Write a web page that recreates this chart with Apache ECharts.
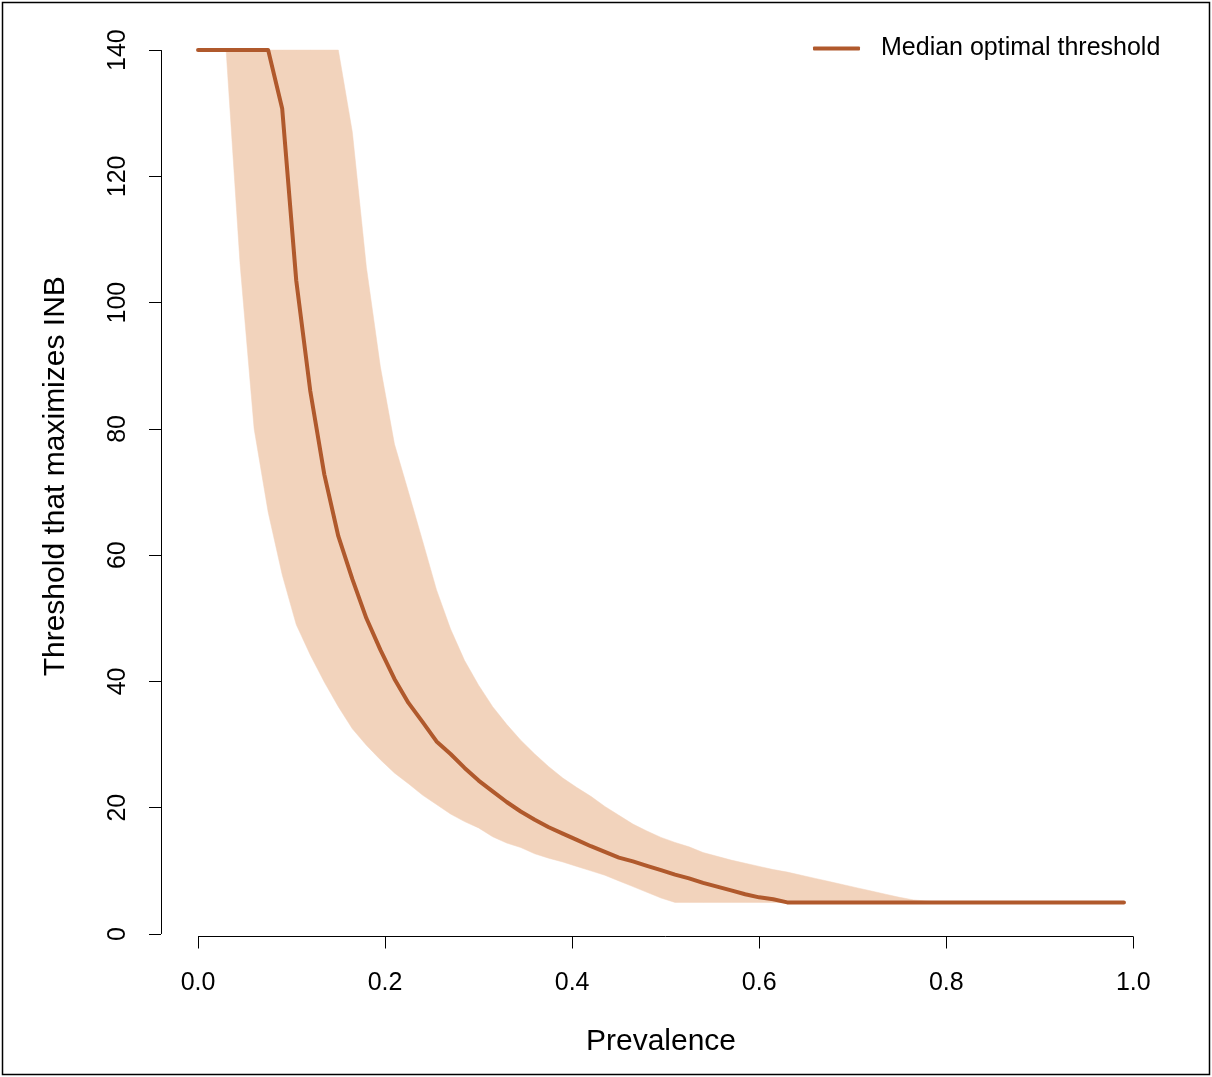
<!DOCTYPE html>
<html>
<head>
<meta charset="utf-8">
<script src="https://cdn.jsdelivr.net/npm/echarts@6/dist/echarts.min.js"></script>
<style>
html,body{margin:0;padding:0;background:#fff;}
#chart{width:1212px;height:1077px;}
</style>
</head>
<body>
<div id="chart"></div>
<script>
var prevalence = [0,0.015,0.03,0.045,0.06,0.075,0.09,0.105,0.12,0.135,0.15,0.165,0.18,0.195,0.21,0.225,0.24,0.255,0.27,0.285,0.3,0.315,0.33,0.345,0.36,0.375,0.39,0.405,0.42,0.435,0.45,0.465,0.48,0.495,0.51,0.525,0.54,0.555,0.57,0.585,0.6,0.615,0.63,0.645,0.66,0.675,0.69,0.705,0.72,0.735,0.75,0.765,0.78,0.795,0.81,0.825,0.84,0.855,0.87,0.885,0.9,0.915,0.93,0.945,0.96,0.975,0.99];

var medianThreshold = [140,140,140,140,140,140,
  130.7,103.5,86,72.8,63,56.2,50,45,40.4,36.6,33.6,
  30.5,28.5,26.3,24.3,22.6,20.9,19.4,18.1,16.9,15.9,
  14.9,13.9,13.0,12.1,11.5,10.8,10.1,9.4,8.8,8.1,
  7.5,6.9,6.3,5.8,5.5,
  5,5,5,5,5,5,5,5,5,5,5,5,5,5,5,5,5,5,5,5,5,5,5,5,5];

var lowerBound = [140,140,140,
  106,80,66.8,56.9,49,44.2,39.9,36,32.5,29.9,
  27.6,25.5,23.8,22.0,20.5,19,17.8,16.8,15.4,14.4,
  13.7,12.7,12.0,11.4,10.7,10.0,9.3,8.4,7.5,6.6,5.7,
  5,5,5,5,5,5,5,5,5,5,5,5,5,5,5,5,5,5,5,5,5,5,5,5,5,5,5,5,5,5,5,5,5];

var upperBound = [140,140,140,140,140,140,140,140,140,140,140,
  127,105.6,89.8,77.6,70,62.3,54.5,48.3,43.3,39.4,
  36.0,33.2,30.7,28.5,26.5,24.7,23.2,21.8,20.2,18.8,
  17.4,16.3,15.3,14.5,13.8,12.9,12.3,11.7,11.2,10.7,
  10.2,9.8,9.3,8.8,8.3,7.8,7.3,6.8,6.3,5.8,5.4,5.2,
  5,5,5,5,5,5,5,5,5,5,5,5,5,5];

var xTicks = [0,0.2,0.4,0.6,0.8,1.0];
var yTicks = [0,20,40,60,80,100,120,140];

var FONT = '"Liberation Sans", Arial, Helvetica, sans-serif';
var LINE_COLOR = '#B0592C';
var BAND_COLOR = '#F2D3BC';

var xMin = -0.0396, xMax = 1.0296;
var yMin = -0.4, yMax = 145.4;

var bandData = prevalence.map(function(x,i){return [x, lowerBound[i], upperBound[i]];});
var medianData = prevalence.map(function(x,i){return [x, medianThreshold[i]];});

function renderBand(params, api){
  if (params.dataIndex !== 0) return null;
  var top = [], bottom = [];
  for (var i = 0; i < bandData.length; i++) {
    top.push(api.coord([bandData[i][0], bandData[i][2]]));
    bottom.push(api.coord([bandData[i][0], bandData[i][1]]));
  }
  var pts = top.concat(bottom.reverse());
  return {
    type:'polygon',
    shape:{points:pts},
    style:{fill:BAND_COLOR, stroke:BAND_COLOR, lineWidth:0.5},
    silent:true
  };
}

var chart = echarts.init(document.getElementById('chart'), null, {renderer:'canvas'});
chart.setOption({
  animation:false,
  backgroundColor:'#fff',
  textStyle:{fontFamily:FONT},
  graphic:[{type:'rect', shape:{x:2.5,y:2.5,width:1207,height:1072}, style:{fill:'none', stroke:'#000', lineWidth:1.5}, silent:true, z:100}],
  legend:{
    left:813, top:36, padding:0, orient:'horizontal',
    icon:'roundRect', itemWidth:47, itemHeight:4,
    data:['Median optimal threshold'],
    textStyle:{fontFamily:FONT, fontSize:25, color:'#000', padding:[0,0,0,16]},
    selectedMode:false
  },
  grid:{left:161, top:16, width:1000, height:920.5, containLabel:false},
  xAxis:{
    type:'value', min:xMin, max:xMax,
    name:'Prevalence', nameLocation:'middle', nameGap:90,
    nameTextStyle:{fontFamily:FONT, fontSize:30, color:'#000'},
    axisLine:{show:false, onZero:false},
    axisTick:{show:true, length:12, customValues:xTicks, lineStyle:{color:'#000', width:1}},
    axisLabel:{show:true, customValues:xTicks, margin:34, fontSize:25, color:'#000', fontFamily:FONT,
      formatter:function(v){return v.toFixed(1);}},
    splitLine:{show:false}
  },
  yAxis:{
    type:'value', min:yMin, max:yMax,
    name:'Threshold that maximizes INB', nameLocation:'middle', nameGap:90, nameRotate:90,
    nameTextStyle:{fontFamily:FONT, fontSize:30, color:'#000'},
    axisLine:{show:false, onZero:false},
    axisTick:{show:true, length:12, customValues:yTicks, lineStyle:{color:'#000', width:1}},
    axisLabel:{show:true, customValues:yTicks, margin:30, rotate:90, fontSize:25, color:'#000', fontFamily:FONT,
      formatter:function(v){return String(v);}},
    splitLine:{show:false}
  },
  series:[
    {
      name:'band', type:'custom', data:bandData, renderItem:renderBand,
      encode:{x:0, y:[1,2]}, silent:true, z:1, clip:false,
      markLine:{
        silent:true, symbol:'none', label:{show:false},
        lineStyle:{color:'#000', width:1, type:'solid'},
        data:[
          [{coord:[xTicks[0], yMin]},{coord:[xTicks[xTicks.length-1], yMin]}],
          [{coord:[xMin, yTicks[0]]},{coord:[xMin, yTicks[yTicks.length-1]]}]
        ]
      }
    },
    {
      name:'Median optimal threshold', type:'line', data:medianData,
      symbol:'none', itemStyle:{color:LINE_COLOR},
      lineStyle:{color:LINE_COLOR, width:4, cap:'round', join:'round'}, z:3
    }
  ]
});
</script>
</body>
</html>
